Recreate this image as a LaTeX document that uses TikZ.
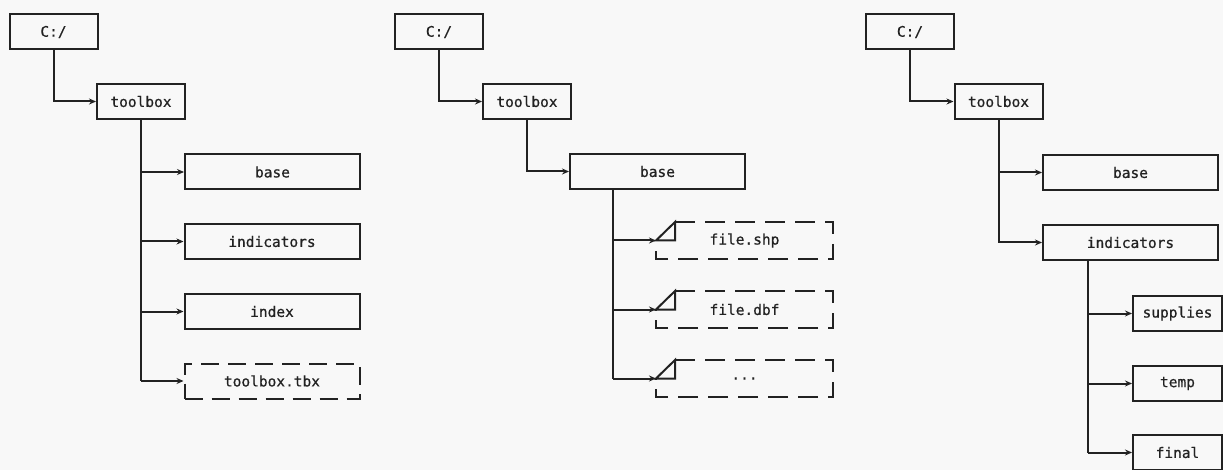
\documentclass[tikz,border=0pt]{standalone}
\usepackage{fontspec}
\newfontfamily\boxfont{DejaVu Sans Mono}[FakeBold=0.6]
\usetikzlibrary{arrows.meta}
\definecolor{ink}{HTML}{222222}
\definecolor{paper}{HTML}{F8F8F8}

\begin{document}
\begin{tikzpicture}[x=1pt, y=-1pt,
    box/.style={draw=ink, line width=2pt, minimum height=35pt, inner sep=0pt,
      font=\fontsize{14.5}{16}\boxfont, text=ink},
    dir/.style={box, minimum width=175pt},
    small/.style={box, minimum width=88pt},
    tbxbox/.style={dir, dash pattern=on 18pt off 9pt},
    filebox/.style={dir, draw=none},
    arr/.style={-{Stealth[length=7pt, width=6pt]}, line width=2pt, draw=ink},
    link/.style={line width=2pt, draw=ink},
    dsh/.style={line width=2pt, draw=ink, dash pattern=on 20pt off 10pt},
  ]
    % page
    \fill[paper] (0,0) rectangle (1223,470);
    \useasboundingbox (0,0) rectangle (1223,470);

    % === toolbox layout ===
    \node[small] (c1) at (53.5, 32) {C:/};
    \node[small] (tb1) at (141, 101.5) {toolbox};
    \node[dir] (base1) at (272.5, 172) {base};
    \node[dir] (ind1) at (272, 241.5) {indicators};
    \node[dir] (idx1) at (272, 311.5) {index};
    \node[tbxbox] (tbx1) at (272, 381) {toolbox.tbx};

    \draw[arr] (c1.south) |- (tb1.west);
    \draw[link] (tb1.south) -- (tb1.south |- tbx1.west);
    \foreach \n in {base1, ind1, idx1, tbx1}
      \draw[arr] (tb1.south |- \n.west) -- (\n.west);

    % === base layout ===
    \node[small] (c2) at (439, 32) {C:/};
    \node[small] (tb2) at (527, 101.5) {toolbox};
    \node[dir] (base2) at (657.5, 171.5) {base};
    \node[filebox] (f1) at (744.5, 240.5) {file.shp};
    \node[filebox] (f2) at (744.5, 309.5) {file.dbf};
    \node[filebox] (f3) at (744.5, 378.5) {...};

    % dog-eared file outlines
    \foreach \f in {f1, f2, f3} {
      \draw[dsh] ([xshift=19pt]\f.north west) -- (\f.north east) -- (\f.south east)
        -- (\f.south west) -- (\f.west);
      \draw[link] ([xshift=19pt]\f.north west) -- (\f.west)
        -- ([xshift=19pt]\f.west) -- cycle;
    }

    \draw[arr] (c2.south) |- (tb2.west);
    \draw[arr] (tb2.south) |- (base2.west);
    \coordinate (t2) at (613, 0);
    \draw[link] (t2 |- base2.south) -- (t2 |- f3.west);
    \foreach \n in {f1, f2, f3}
      \draw[arr] (t2 |- \n.west) -- (\n.west);

    % === indicators layout ===
    \node[small] (c3) at (910, 32) {C:/};
    \node[small] (tb3) at (998.5, 101.5) {toolbox};
    \node[dir] (base3) at (1130.5, 172.5) {base};
    \node[dir] (ind3) at (1130.5, 242.5) {indicators};
    \node[small, minimum width=89pt] (sup3) at (1177.5, 313.5) {supplies};
    \node[small, minimum width=89pt] (tmp3) at (1177.5, 383.5) {temp};
    \node[small, minimum width=89pt] (fin3) at (1177.5, 452.5) {final};

    \draw[arr] (c3.south) |- (tb3.west);
    \draw[arr] (tb3.south) |- (ind3.west);
    \draw[arr] (tb3.south |- base3.west) -- (base3.west);
    \coordinate (t3) at (1088, 0);
    \draw[link] (t3 |- ind3.south) -- (t3 |- fin3.west);
    \foreach \n in {sup3, tmp3, fin3}
      \draw[arr] (t3 |- \n.west) -- (\n.west);
\end{tikzpicture}
\end{document}
